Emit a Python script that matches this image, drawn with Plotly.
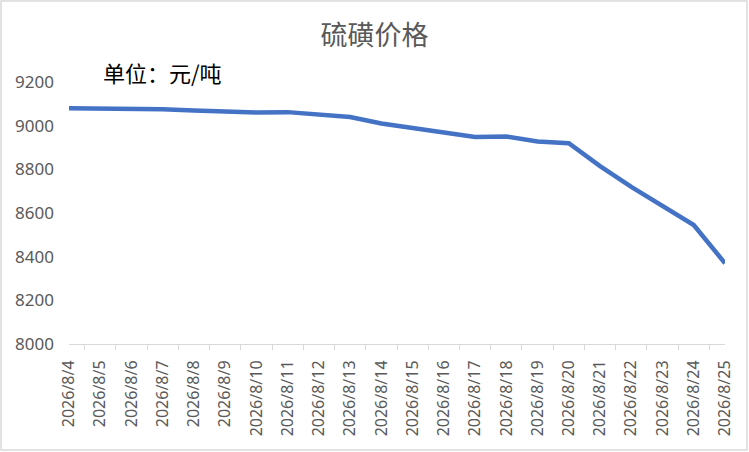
import plotly.graph_objects as go

# sulphur price, yuan per tonne
dates = [
    "2026/8/4", "2026/8/5", "2026/8/6", "2026/8/7", "2026/8/8", "2026/8/9",
    "2026/8/10", "2026/8/11", "2026/8/12", "2026/8/13", "2026/8/14",
    "2026/8/15", "2026/8/16", "2026/8/17", "2026/8/18", "2026/8/19",
    "2026/8/20", "2026/8/21", "2026/8/22", "2026/8/23", "2026/8/24",
    "2026/8/25",
]
prices = [
    9080, 9080, 9080, 9075, 9070, 9065, 9060, 9062, 9052, 9040, 9010,
    8988, 8968, 8948, 8950, 8928, 8920, 8815, 8720, 8630, 8545, 8370,
]
y_ticks = [8000, 8200, 8400, 8600, 8800, 9000, 9200]

grey = "#595959"
cjk = "Noto Sans CJK SC"

fig = go.Figure(go.Scatter(
    x=dates, y=prices, mode="lines",
    line=dict(color="#4472C4", width=4.5),
))

fig.update_layout(
    width=749, height=452,
    margin=dict(l=69, r=24, t=82, b=108),
    paper_bgcolor="white", plot_bgcolor="white",
    showlegend=False,
    title=dict(
        text="硫磺价格", x=0.5, xanchor="center",
        y=1 - 36 / 452, yanchor="middle", yref="container",
        font=dict(family=cjk, size=27, color=grey),
    ),
    font=dict(family="Noto Sans", size=16, color=grey),
)

fig.update_xaxes(
    type="category", tickangle=-90, automargin=False,
    showline=True, linecolor="#D9D9D9", linewidth=1,
    ticks="outside", ticklen=5, tickcolor="#D9D9D9",
    tickson="boundaries", showgrid=False, zeroline=False,
    ticklabelstandoff=9,
    tickfont=dict(family="Noto Sans", size=16, color=grey),
)
fig.update_yaxes(
    range=[8000, 9200], tickvals=y_ticks, automargin=False,
    showline=False, showgrid=False, zeroline=False, ticks="",
    ticklabelstandoff=14,
    tickfont=dict(family="Noto Sans", size=17, color=grey),
)

fig.add_annotation(
    text="单位：元/吨", xref="paper", yref="paper",
    x=(101 - 69) / 656, y=(344 - 72) / 262,
    xanchor="left", yanchor="middle", showarrow=False,
    font=dict(family=cjk, size=22, color="black"),
)

# light outer frame of the chart area
fig.add_shape(
    type="rect", xref="paper", yref="paper",
    x0=(1 - 69) / 656, x1=(747 - 69) / 656,
    y0=(344 - 450) / 262, y1=(344 - 1) / 262,
    line=dict(color="#D9D9D9", width=1.5),
)

# drop the default 8px page margin so the figure fills the window
fig.write_html(
    "out.html",
    config={"displayModeBar": False},
    post_script="document.body.style.margin='0';document.body.style.overflow='hidden';",
)
